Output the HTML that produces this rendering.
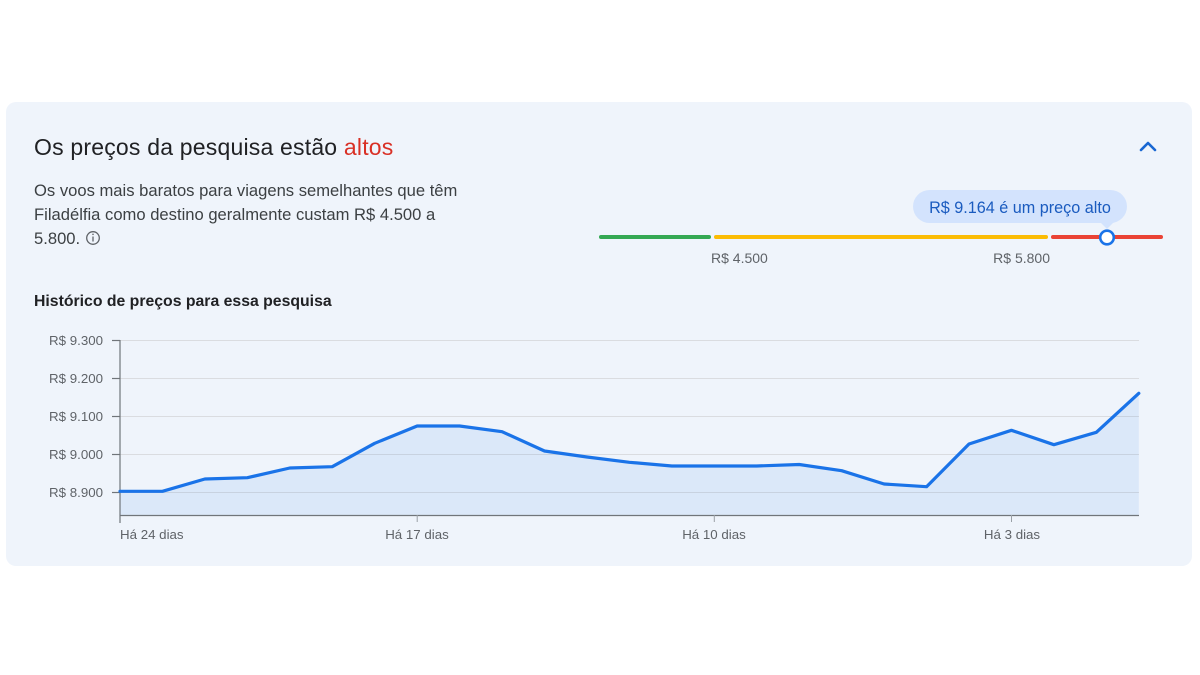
<!DOCTYPE html>
<html>
<head>
<meta charset="utf-8">
<style>
  html,body{margin:0;padding:0;background:#ffffff;}
  body{width:1200px;height:675px;overflow:hidden;}
  svg{display:block;}
  text{font-family:"Liberation Sans", Arial, sans-serif;}
</style>
</head>
<body>
<svg width="1200" height="675" viewBox="0 0 1200 675" xmlns="http://www.w3.org/2000/svg">
  <rect x="0" y="0" width="1200" height="675" fill="#ffffff"/>
  <!-- card -->
  <rect x="6" y="102" width="1186" height="464" rx="10" ry="10" fill="#eff4fb"/>

  <!-- header -->
  <text x="34" y="155" font-size="23" letter-spacing="0.2" fill="#202124">Os preços da pesquisa estão <tspan fill="#d93025">altos</tspan></text>
  <!-- chevron -->
  <polyline points="1141,150 1148,143 1155,150" fill="none" stroke="#1967d2" stroke-width="2.6" stroke-linecap="round" stroke-linejoin="round"/>

  <!-- description -->
  <text x="34" y="196" font-size="16.6" fill="#3c4043">Os voos mais baratos para viagens semelhantes que têm</text>
  <text x="34" y="220" font-size="16.6" fill="#3c4043">Filadélfia como destino geralmente custam R$ 4.500 a</text>
  <text x="34" y="244" font-size="16.6" fill="#3c4043">5.800.</text>
  <circle cx="93" cy="238" r="6.3" fill="none" stroke="#5f6368" stroke-width="1.3"/>
  <line x1="93" y1="236.5" x2="93" y2="241.5" stroke="#5f6368" stroke-width="1.3"/>
  <circle cx="93" cy="234.3" r="0.8" fill="#5f6368"/>

  <!-- range bar -->
  <line x1="601" y1="237" x2="709" y2="237" stroke="#34a853" stroke-width="4" stroke-linecap="round"/>
  <line x1="716" y1="237" x2="1046" y2="237" stroke="#fbbc04" stroke-width="4" stroke-linecap="round"/>
  <line x1="1053" y1="237" x2="1161" y2="237" stroke="#ea4335" stroke-width="4" stroke-linecap="round"/>
  <circle cx="1107" cy="237.5" r="6.8" fill="#ffffff" stroke="#1a73e8" stroke-width="2.6"/>
  <text x="711" y="263" font-size="14" fill="#5f6368">R$ 4.500</text>
  <text x="1050" y="263" font-size="14" fill="#5f6368" text-anchor="end">R$ 5.800</text>

  <!-- tooltip -->
  <rect x="913" y="190" width="214" height="33" rx="16.5" ry="16.5" fill="#d3e3fd"/>
  <polygon points="1100,222 1114,222 1107,229" fill="#d3e3fd"/>
  <text x="1020" y="213" font-size="16.2" fill="#1a5bbf" text-anchor="middle">R$ 9.164 é um preço alto</text>

  <!-- chart title -->
  <text x="34" y="306" font-size="15.8" font-weight="bold" fill="#202124">Histórico de preços para essa pesquisa</text>

  <!-- gridlines -->
  <g stroke="#dadce0" stroke-width="1">
    <line x1="120" y1="340.5" x2="1139" y2="340.5"/>
    <line x1="120" y1="378.5" x2="1139" y2="378.5"/>
    <line x1="120" y1="416.5" x2="1139" y2="416.5"/>
    <line x1="120" y1="454.5" x2="1139" y2="454.5"/>
    <line x1="120" y1="492.5" x2="1139" y2="492.5"/>
  </g>

  <!-- area -->
  <polygon fill="#1a73e8" fill-opacity="0.09" points="120,515 120,491.3 162.45,491.3 204.9,479 247.35,477.7 289.8,468 332.25,466.7 374.7,443.3 417.15,426 459.6,426 502.05,431.7 544.5,451 586.95,457 629.4,462.3 671.85,466 714.3,466 756.75,466 799.2,464.5 841.65,470.7 884.1,484 926.55,486.7 969,444 1011.45,430.3 1053.9,444.7 1096.35,432.3 1138.8,393.3 1138.8,515"/>

  <!-- axes -->
  <g stroke="#70757a" stroke-width="1.2">
    <line x1="120" y1="340" x2="120" y2="523"/>
    <line x1="119.5" y1="515.5" x2="1139" y2="515.5"/>
    <line x1="112" y1="340.5" x2="120" y2="340.5"/>
    <line x1="112" y1="378.5" x2="120" y2="378.5"/>
    <line x1="112" y1="416.5" x2="120" y2="416.5"/>
    <line x1="112" y1="454.5" x2="120" y2="454.5"/>
    <line x1="112" y1="492.5" x2="120" y2="492.5"/>
  </g>
  <g stroke="#9aa0a6" stroke-width="1">
    <line x1="417.2" y1="515" x2="417.2" y2="522"/>
    <line x1="714.3" y1="515" x2="714.3" y2="522"/>
    <line x1="1011.5" y1="515" x2="1011.5" y2="522"/>
  </g>

  <!-- line -->
  <polyline fill="none" stroke="#1a73e8" stroke-width="3.2" stroke-linejoin="round" stroke-linecap="round" points="120,491.3 162.45,491.3 204.9,479 247.35,477.7 289.8,468 332.25,466.7 374.7,443.3 417.15,426 459.6,426 502.05,431.7 544.5,451 586.95,457 629.4,462.3 671.85,466 714.3,466 756.75,466 799.2,464.5 841.65,470.7 884.1,484 926.55,486.7 969,444 1011.45,430.3 1053.9,444.7 1096.35,432.3 1138.8,393.3"/>

  <!-- y labels -->
  <g font-size="13.3" fill="#5f6368" text-anchor="end">
    <text x="103" y="345">R$ 9.300</text>
    <text x="103" y="383">R$ 9.200</text>
    <text x="103" y="421">R$ 9.100</text>
    <text x="103" y="459">R$ 9.000</text>
    <text x="103" y="497">R$ 8.900</text>
  </g>

  <!-- x labels -->
  <g font-size="13.3" fill="#5f6368">
    <text x="120" y="539">Há 24 dias</text>
    <text x="417" y="539" text-anchor="middle">Há 17 dias</text>
    <text x="714" y="539" text-anchor="middle">Há 10 dias</text>
    <text x="1012" y="539" text-anchor="middle">Há 3 dias</text>
  </g>
</svg>
</body>
</html>
